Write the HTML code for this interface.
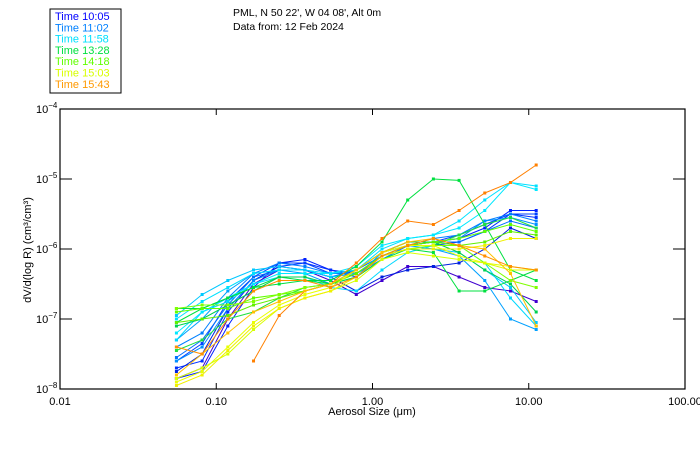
<!DOCTYPE html>
<html><head><meta charset="utf-8"><style>
body{margin:0;background:#fff;width:700px;height:450px;overflow:hidden;font-family:"Liberation Sans",sans-serif}
svg text{font-family:"Liberation Sans",sans-serif;font-size:11px}
</style></head><body>
<svg id="chart" width="700" height="450">
<rect x="50" y="9" width="71" height="84" fill="none" stroke="#000" stroke-width="1"/>
<g id="legend"></g>
<text x="233" y="16" style="font-size:10.5px">PML, N 50 22', W 04 08', Alt 0m</text>
<text x="233" y="30" style="font-size:10.5px">Data from: 12 Feb 2024</text>
<g id="series"></g>
<rect x="60" y="109" width="625" height="280" fill="none" stroke="#000" stroke-width="1.2"/>
<g id="axes"></g>
<text x="372" y="415" text-anchor="middle">Aerosol Size (μm)</text>
<text transform="translate(31,250) rotate(-90)" text-anchor="middle">dV/d(log R) (cm³/cm³)</text>
</svg>
<script>
const legendLabels=["Time 10:05","Time 11:02","Time 11:58","Time 13:28","Time 14:18","Time 15:03","Time 15:43"];
const legendColors=["#0000ff","#0080ff","#00e0ff","#00e040","#60ff00","#d8ff00","#ff9900"];
const xTicks=[0.01,0.1,1,10,100];
const xTickLabels=["0.01","0.10","1.00","10.00","100.00"];
const yTicks=[-8,-7,-6,-5,-4];
const sizes=[0.0556,0.0812,0.1186,0.1732,0.2529,0.3694,0.5394,0.7877,1.150,1.680,2.453,3.582,5.231,7.640,11.16];
const seriesColors=["#0020ff","#0030ff","#0040ff","#4000d0","#0020e0","#0080ff","#0070ff","#00a0ff","#0090ff","#00d8ff","#00e0ff","#00e8ff","#00c8ff","#00e040","#00e040","#20e040","#00d050","#60ff00","#80ff00","#60f000","#e8ff00","#d8ff00","#f0f000","#ff8000","#ffc000","#ff9000"];
const seriesValues=[
[-7.85,-7.75,-7.1,-6.55,-6.2,-6.15,-6.3,-6.4,-6.15,-5.95,-5.9,-5.85,-5.7,-5.45,-5.45],
[-7.7,-7.6,-6.9,-6.45,-6.25,-6.2,-6.3,-6.35,-6.1,-5.95,-5.95,-5.9,-5.75,-5.5,-5.55],
[-7.6,-7.35,-6.75,-6.4,-6.2,-6.2,-6.35,-6.3,-6.05,-5.9,-5.9,-5.8,-5.65,-5.5,-5.5],
[-7.85,-7.7,-7.0,-6.5,-6.3,-6.3,-6.45,-6.65,-6.45,-6.25,-6.25,-6.4,-6.55,-6.6,-6.75],
[-7.75,-7.5,-6.85,-6.45,-6.25,-6.3,-6.4,-6.6,-6.4,-6.3,-6.25,-6.2,-6.0,-5.7,-5.85],
[-7.4,-7.2,-6.7,-6.35,-6.2,-6.25,-6.35,-6.35,-6.1,-5.95,-5.85,-5.8,-5.6,-5.5,-5.6],
[-7.55,-7.3,-6.8,-6.4,-6.3,-6.3,-6.4,-6.3,-6.1,-5.95,-5.9,-5.9,-5.75,-5.6,-5.7],
[-7.3,-7.0,-6.6,-6.35,-6.3,-6.35,-6.5,-6.4,-6.05,-5.95,-6.0,-6.1,-6.45,-7.0,-7.15],
[-7.6,-7.4,-6.85,-6.45,-6.3,-6.3,-6.4,-6.35,-6.15,-5.95,-5.9,-5.85,-5.6,-5.55,-5.65],
[-7.3,-6.9,-6.75,-6.5,-6.4,-6.4,-6.55,-6.6,-6.3,-6.05,-5.95,-5.95,-6.2,-6.7,-7.1],
[-7.0,-6.75,-6.55,-6.35,-6.3,-6.3,-6.35,-6.3,-6.0,-5.85,-5.8,-5.6,-5.3,-5.05,-5.1],
[-7.2,-6.9,-6.7,-6.5,-6.35,-6.35,-6.35,-6.25,-5.95,-5.85,-5.8,-5.7,-5.45,-5.05,-5.15],
[-6.95,-6.65,-6.45,-6.3,-6.25,-6.3,-6.4,-6.35,-6.1,-6.0,-6.0,-6.05,-6.3,-6.55,-7.05],
[-7.05,-6.85,-6.7,-6.55,-6.5,-6.45,-6.45,-6.25,-5.9,-5.3,-5.0,-5.02,-5.65,-6.3,-6.45],
[-6.85,-6.85,-6.7,-6.55,-6.4,-6.45,-6.5,-6.4,-6.15,-6.0,-6.05,-6.6,-6.6,-6.45,-6.3],
[-7.45,-7.3,-7.0,-6.9,-6.7,-6.55,-6.5,-6.35,-6.1,-5.95,-5.95,-5.8,-5.65,-5.55,-5.7],
[-7.1,-7.0,-6.8,-6.6,-6.4,-6.4,-6.5,-6.3,-6.05,-5.9,-5.9,-6.05,-6.3,-6.5,-6.9],
[-6.9,-6.85,-6.85,-6.7,-6.65,-6.6,-6.5,-6.3,-6.05,-5.95,-5.9,-5.85,-5.75,-5.65,-5.75],
[-6.85,-6.8,-6.8,-6.75,-6.65,-6.55,-6.5,-6.35,-6.1,-6.0,-5.95,-5.95,-6.2,-6.45,-6.55],
[-7.05,-7.0,-6.95,-6.8,-6.7,-6.6,-6.5,-6.35,-6.1,-5.95,-5.9,-5.95,-5.9,-5.75,-5.8],
[-7.9,-7.75,-7.4,-7.05,-6.8,-6.65,-6.55,-6.3,-6.05,-5.95,-5.95,-6.1,-6.2,-6.25,-6.3],
[-7.85,-7.7,-7.5,-7.15,-6.85,-6.7,-6.6,-6.45,-6.15,-6.05,-6.1,-6.15,-6.2,-6.3,-6.3],
[-7.95,-7.8,-7.45,-7.1,-6.85,-6.7,-6.6,-6.4,-6.1,-6.0,-6.0,-6.0,-5.95,-5.85,-5.85],
[null,null,null,-7.6,-6.95,-6.6,-6.5,-6.2,-5.85,-5.6,-5.65,-5.45,-5.2,-5.05,-4.8],
[-7.8,-7.5,-7.2,-6.9,-6.75,-6.6,-6.5,-6.3,-6.05,-5.9,-5.85,-5.95,-6.0,-6.35,-7.1],
[-7.4,-7.5,-7.0,-6.6,-6.45,-6.45,-6.55,-6.4,-6.1,-5.95,-5.85,-5.95,-6.1,-6.25,-6.3]
];
const NS="http://www.w3.org/2000/svg";
const X0=60,X1=685,Y0=389,Y1=109;
function xs(v){return X0+(Math.log10(v)+2)/4*(X1-X0);}
function ys(l){return Y0-(l+8)/4*(Y0-Y1);}
function mk(t,a,p){const e=document.createElementNS(NS,t);for(const k in a)e.setAttribute(k,a[k]);p.appendChild(e);return e;}
const leg=document.getElementById('legend');
legendLabels.forEach((s,i)=>{
 const t=mk('text',{x:55,y:20+i*11.3,fill:legendColors[i]},leg);
 t.textContent=s;
 
 
});
const ax=document.getElementById('axes');
xTicks.forEach((v,i)=>{
 const x=xs(v);
 if(i>0&&i<xTicks.length-1){mk('line',{x1:x,y1:Y0,x2:x,y2:Y0-6,stroke:'#000'},ax);mk('line',{x1:x,y1:Y1,x2:x,y2:Y1+6,stroke:'#000'},ax);}
 const t=mk('text',{x:x,y:405,'text-anchor':'middle'},ax);
 t.textContent=xTickLabels[i];
 
 
});
yTicks.forEach((l,i)=>{
 const y=ys(l);
 if(i>0&&i<yTicks.length-1){mk('line',{x1:X0,y1:y,x2:X0+12,y2:y,stroke:'#000'},ax);mk('line',{x1:X1,y1:y,x2:X1-12,y2:y,stroke:'#000'},ax);}
 const t=mk('text',{x:36,y:y+4},ax);
 t.innerHTML='10<tspan dy="-5" font-size="8">−'+(-l)+'</tspan>';
 
 
});
const sg=document.getElementById('series');
seriesValues.forEach((vals,si)=>{
 const c=seriesColors[si];
 let pts=[];
 vals.forEach((v,j)=>{if(v!==null)pts.push([xs(sizes[j]),ys(v)]);});
 const pl=mk('polyline',{points:pts.map(p=>p.join(',')).join(' '),fill:'none',stroke:c,'stroke-width':1},sg);
 
 
 pts.forEach(p=>{
  const r=mk('rect',{x:p[0]-1.5,y:p[1]-1.5,width:3,height:3,fill:c},sg);
  
  
 });
});
</script>
</body></html>
